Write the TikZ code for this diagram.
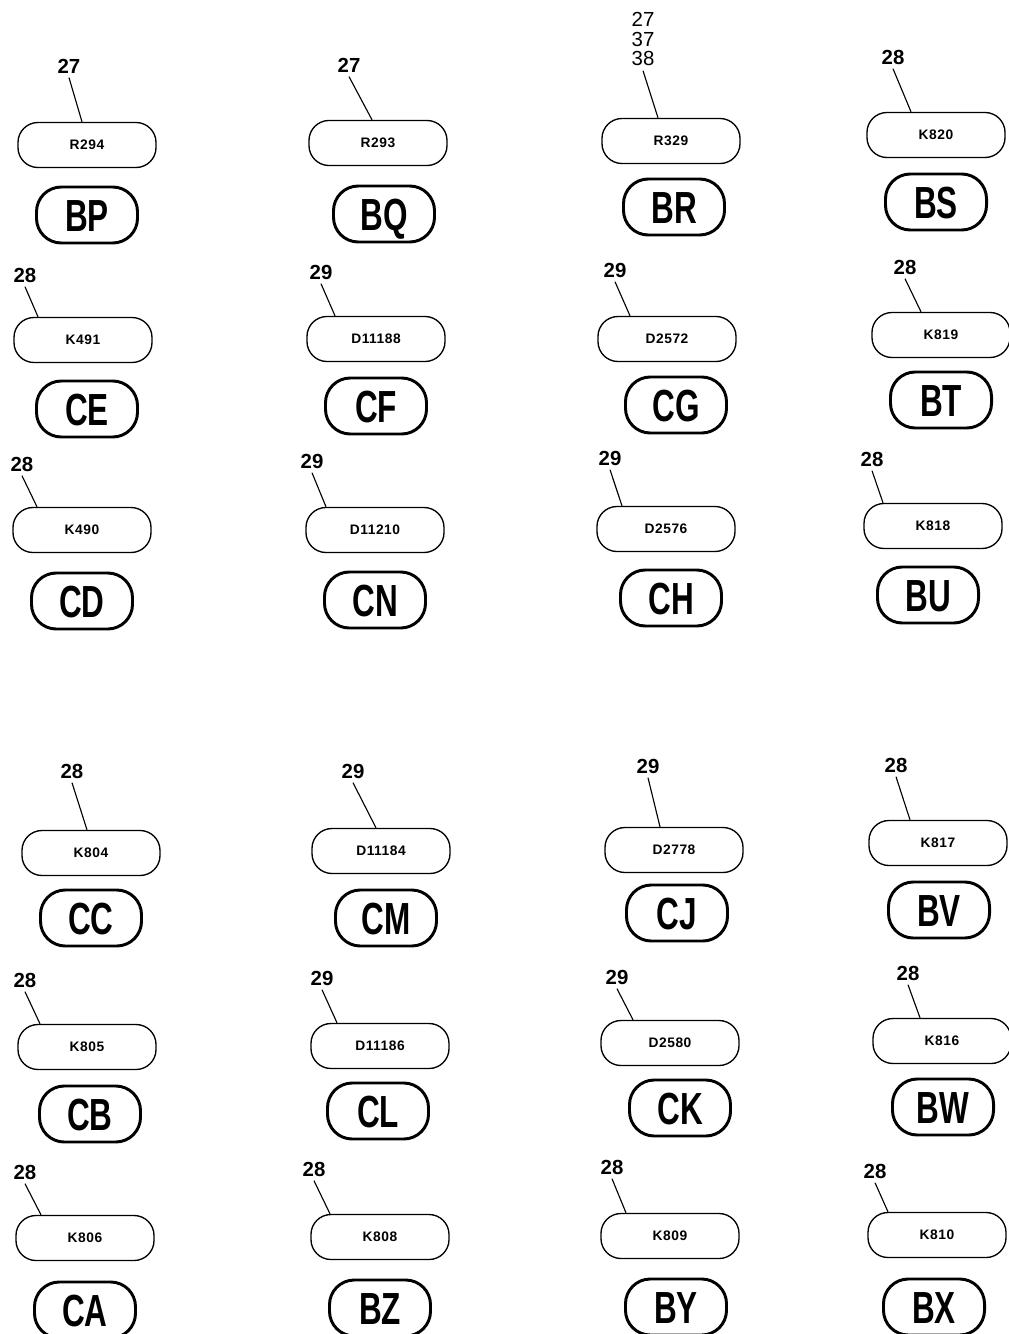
\documentclass[tikz,border=0pt]{standalone}
\usepackage{fontspec}
\setmainfont{Liberation Sans}
\newfontfamily\tagfont[FakeStretch=0.7]{Liberation Sans}
\newfontfamily\partfont[LetterSpace=4]{Liberation Sans}
\usetikzlibrary{calc}

\begin{document}
\begin{tikzpicture}[
    x=0.025cm, y=-0.025cm,
    numlabel/.style={inner sep=3pt, align=center, font=\fontsize{14.5}{14.2}\selectfont#1},
    numlabel/.default=\bfseries,
    partpill/.style={draw, line width=0.95pt, rounded corners=0.5cm,
        minimum width=3.45cm, minimum height=1.125cm, inner sep=0pt, text height=7pt, text depth=0pt,
        font=\partfont\fontsize{9.8}{10}\selectfont\bfseries},
    tagpill/.style={draw, line width=2.1pt, rounded corners=0.62cm,
        minimum width=2.525cm, minimum height=1.4cm, inner sep=0pt, text height=23pt, text depth=0pt,
        font=\tagfont\fontsize{32}{32}\selectfont\bfseries},
    leader/.style={line width=0.8pt}
]
\useasboundingbox (0,0) rectangle (1008,1334);

% Groups: tag / weight / ref number / label pos / part no. / pill pos / leader offset / tag pos
\foreach \tag/\wt/\num/\lx/\ly/\part/\px/\py/\dx/\bx/\by in {
    % top block, row 1
    BP/\bfseries/27/69/66/R294/87/145/-5/87/215,
    BQ/\bfseries/27/349/65/R293/378/143/-6/384/214,
    BR/\mdseries/{27\\37\\38}/643/39/R329/671/141/-13/674/207,
    BS/\bfseries/28/893/57/K820/936/135/-25/936/202,
    % top block, row 2
    CE/\bfseries/28/25/275/K491/83/340/-45/87/409,
    CF/\bfseries/29/321/272/D11188/376/339/-41/376/406,
    CG/\bfseries/29/615/270/D2572/667/339/-37/676/405,
    BT/\bfseries/28/905/267/K819/941/335/-20/941/400,
    % top block, row 3
    CD/\bfseries/28/22/464/K490/82/530/-45/82/601,
    CN/\bfseries/29/312/461/D11210/375/530/-49/375/600,
    CH/\bfseries/29/610/458/D2576/666/529/-44/671/598,
    BU/\bfseries/28/872/459/K818/933/526/-50/928/595,
    % lower block, row 1
    CC/\bfseries/28/72/771/K804/91/853/-4/91/918,
    CM/\bfseries/29/353/771/D11184/381/851/-5/386/918,
    CJ/\bfseries/29/648/766/D2778/674/850/-14/677/913,
    BV/\bfseries/28/896/765/K817/938/843/-28/939/910,
    % lower block, row 2
    CB/\bfseries/28/25/980/K805/87/1047/-47/90/1114,
    CL/\bfseries/29/322/978/D11186/380/1046/-43/378/1111,
    CK/\bfseries/29/617/977/D2580/670/1043/-37/680/1108,
    BW/\bfseries/28/908/973/K816/942/1041/-22/943/1107,
    % lower block, row 3
    CA/\bfseries/28/25/1172/K806/85/1238/-44/85/1310,
    BZ/\bfseries/28/314/1169/K808/380/1237/-50/380/1308,
    BY/\bfseries/28/612/1167/K809/670/1236/-44/676/1307,
    BX/\bfseries/28/875/1171/K810/937/1235/-49/934/1307%
} {
    \node[numlabel=\wt] (num-\tag) at (\lx,\ly) {\num};
    \node[partpill] (part-\tag) at (\px,\py) {\part};
    \node[tagpill] (tag-\tag) at (\bx,\by) {\tag};
    \draw[leader] (num-\tag.south) -- ($(part-\tag.north)+(\dx,0)$);
}

\end{tikzpicture}
\end{document}
